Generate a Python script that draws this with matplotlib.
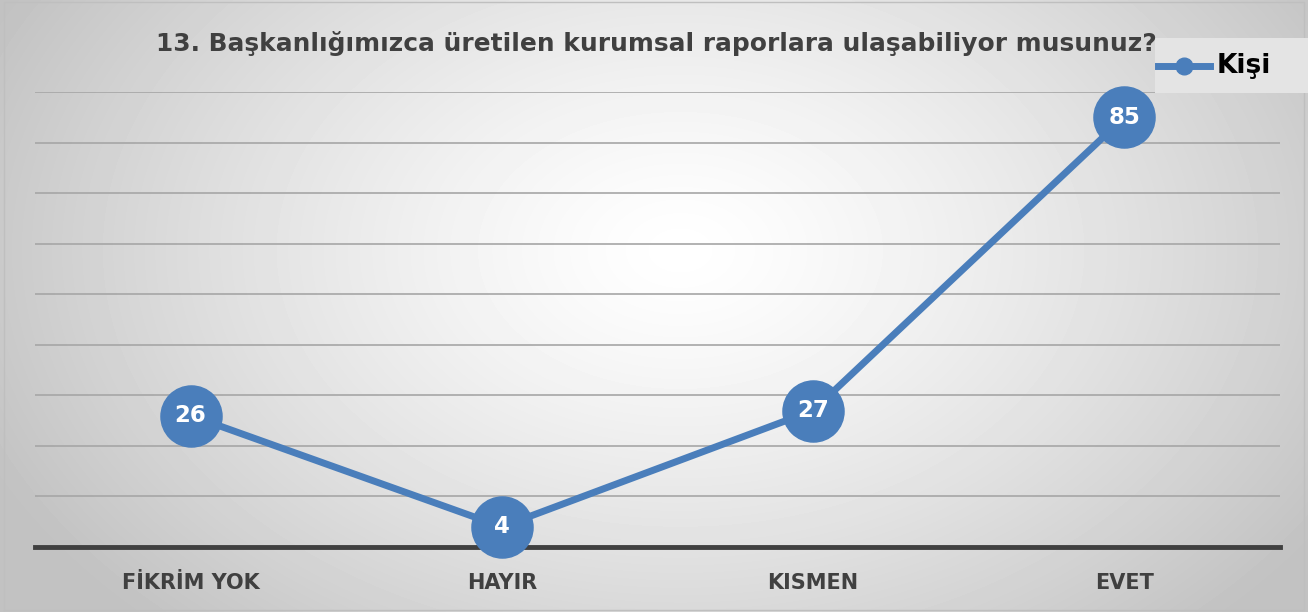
import numpy as np
import matplotlib
matplotlib.use("Agg")
import matplotlib.pyplot as plt
from matplotlib.lines import Line2D

categories = ["FİKRİM YOK", "HAYIR", "KISMEN", "EVET"]
kisi = [26, 4, 27, 85]
series_name = "Kişi"
title = "13. Başkanlığımızca üretilen kurumsal raporlara ulaşabiliyor musunuz?"

blue = "#4a7ebb"
dark = "#404040"

fig = plt.figure(figsize=(13.08, 6.12), dpi=100)

# radial gradient background
bg = fig.add_axes([0, 0, 1, 1], zorder=0)
yy, xx = np.mgrid[0:612, 0:1308]
r = np.sqrt(((xx - 680) / 760.0) ** 2 + ((yy - 250) / 520.0) ** 2)
r = np.clip(r, 0, 1)
shade = 1.0 - 0.24 * r ** 1.3
bg.imshow(shade, cmap="gray", vmin=0, vmax=1, aspect="auto", extent=[0, 1, 0, 1])
bg.axis("off")
bg.plot([0.003, 0.003, 0.997, 0.997, 0.003], [0.003, 0.997, 0.997, 0.003, 0.003],
        color="#bfbfbf", lw=1, transform=bg.transAxes)

ax = fig.add_axes([35 / 1308, 1 - 547 / 612, 1245 / 1308, 455 / 612], zorder=1)
ax.patch.set_alpha(0)
x = np.arange(len(categories))
ax.plot(x, kisi, color=blue, lw=5, marker="o", markersize=44,
        markerfacecolor=blue, markeredgecolor=blue, solid_capstyle="round", zorder=3,
        clip_on=False)
for xi, v in zip(x, kisi):
    ax.text(xi, v, str(v), ha="center", va="center", color="white",
            fontsize=16.5, fontweight="bold", family="DejaVu Sans", zorder=4)

ax.set_xlim(-0.5, len(categories) - 0.5)
ax.set_ylim(0, 90)
ax.set_yticks(np.arange(10, 91, 10))
ax.yaxis.grid(True, color="#a6a6a6", lw=1.2)
ax.set_axisbelow(True)
ax.tick_params(axis="y", left=False, labelleft=False)
ax.tick_params(axis="x", bottom=False, pad=15)
ax.set_xticks(x)
ax.set_xticklabels(categories, fontsize=15, fontweight="bold", color=dark, family="DejaVu Sans")
for s in ["top", "right", "left"]:
    ax.spines[s].set_visible(False)
ax.spines["bottom"].set_color(dark)
ax.spines["bottom"].set_linewidth(3.5)

fig.text(656 / 1308, 1 - 44 / 612, title, ha="center", va="center",
         fontsize=17.9, fontweight="bold", color=dark, family="DejaVu Sans")

# legend
leg_ax = fig.add_axes([1155 / 1308, 1 - 93 / 612, 153 / 1308, 55 / 612], zorder=2)
leg_ax.set_xlim(0, 153)
leg_ax.set_ylim(0, 55)
leg_ax.axis("off")
leg_ax.add_patch(plt.Rectangle((0, 0), 153, 55, color="#e4e4e4", zorder=0))
leg_ax.add_line(Line2D([3, 55], [27, 27], color=blue, lw=5))
leg_ax.plot([29], [27], "o", color=blue, markersize=12)
leg_ax.text(62, 27, series_name, ha="left", va="center", fontsize=19,
            fontweight="bold", color="black", family="DejaVu Sans")

fig.savefig("out.png", dpi=100)
